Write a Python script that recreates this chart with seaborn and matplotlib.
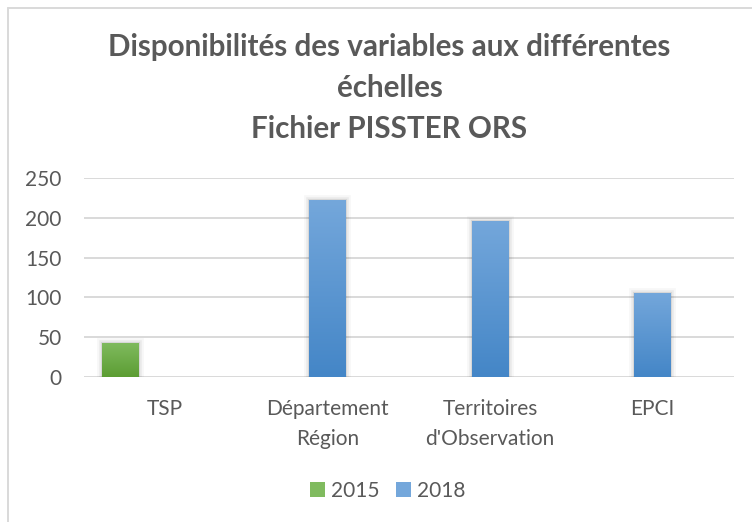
import numpy as np
import pandas as pd
import matplotlib
matplotlib.use("Agg")
import matplotlib.pyplot as plt
import matplotlib.patheffects as pe
from matplotlib.patches import Patch
from matplotlib.lines import Line2D
import seaborn as sns

# Data
categories = ["TSP", "Département\nRégion", "Territoires\nd'Observation", "EPCI"]
years = ["2015", "2018"]
values_2015 = [43, 0, 0, 0]
values_2018 = [0, 222, 196, 106]
title_lines = ["Disponibilités des variables aux différentes", "échelles", "Fichier PISSTER ORS"]

colors = {"2015": "#6aab45", "2018": "#5598d6", "_slot": "#ffffff"}
grad = {"2015": ("#80bb5f", "#5c9d33"), "2018": ("#74a7db", "#4486c7")}

rows = []
for cat, a, b in zip(categories, values_2015, values_2018):
    if a:
        rows.append({"cat": cat, "year": "2015", "val": a})
    if b:
        rows.append({"cat": cat, "year": "2018", "val": b})
df = pd.DataFrame(rows)

sns.set_theme(style="white")
plt.rcParams["font.family"] = ["Lato", "DejaVu Sans"]

fig = plt.figure(figsize=(7.52, 5.22), dpi=100)
ax = fig.add_axes([84 / 752, 1 - 377 / 522, 650 / 752, 199 / 522])

sns.barplot(data=df, x="cat", y="val", hue="year", order=categories,
            hue_order=["2015", "2018", "_slot"], palette=colors,
            dodge=True, width=0.831, gap=0.18, errorbar=None,
            legend=False, ax=ax, zorder=3)

ax.set_ylim(0, 250)
ax.set_xlim(-0.5, len(categories) - 0.5)
ax.set_yticks([0, 50, 100, 150, 200, 250])
ax.yaxis.grid(True, color="#d9d9d9", linewidth=1.4)
ax.set_axisbelow(True)
for s in ax.spines.values():
    s.set_visible(False)
ax.set_xlabel("")
ax.set_ylabel("")
ax.tick_params(axis="both", length=0, labelsize=15, colors="#595959")
ax.tick_params(axis="y", pad=16)
ax.tick_params(axis="x", pad=16)
for t in ax.get_xticklabels():
    t.set_linespacing(1.62)

# Vertical gradient and soft shadow on each bar
shadow = [pe.Stroke(linewidth=7, foreground="#000000", alpha=0.03),
          pe.Stroke(linewidth=4, foreground="#000000", alpha=0.05),
          pe.Stroke(linewidth=1.5, foreground="#000000", alpha=0.08),
          pe.Normal()]
for p in list(ax.patches):
    h = p.get_height()
    if not h or np.isnan(h):
        continue
    x0 = p.get_x()
    w = p.get_width()
    centre = x0 + w / 2
    # 2015 bars sit left of the category centre, 2018 bars on it
    key = "2015" if centre - round(centre) < -0.1 else "2018"
    p.set_facecolor(colors[key])
    top, bot = (np.array(matplotlib.colors.to_rgb(c)) for c in grad[key])
    t = np.linspace(0, 1, 100)[:, None]
    img = (top * (1 - t) + bot * t)[:, None, :]
    p.set_linewidth(0)
    p.set_path_effects(shadow)
    im = ax.imshow(img, extent=[x0, x0 + w, 0, h], origin="upper",
                   aspect="auto", zorder=4, interpolation="bilinear")
    im.set_clip_path(p)

ax.set_ylim(0, 250)
ax.set_xlim(-0.5, len(categories) - 0.5)

# Title
fig.text(0.518, 1 - 88 / 522, "\n".join(title_lines), ha="center", va="center",
         fontsize=21.3, fontweight="bold", color="#595959", linespacing=1.56)

# Legend
handles = [Patch(facecolor=grad[y][0], edgecolor="none", label=y) for y in years]
fig.legend(handles=handles, loc="center", bbox_to_anchor=(0.516, 1 - 491 / 522),
           ncol=2, frameon=False, fontsize=15, labelcolor="#595959",
           handlelength=0.7, handleheight=0.7, handletextpad=0.3,
           columnspacing=0.8)

# Chart frame
fig.add_artist(Line2D([7.5 / 752, 7.5 / 752], [0, 1 - 8 / 522],
                      transform=fig.transFigure, color="#d9d9d9", linewidth=1.4))
fig.add_artist(Line2D([7.5 / 752, 1], [1 - 8 / 522, 1 - 8 / 522],
                      transform=fig.transFigure, color="#d9d9d9", linewidth=1.4))

fig.savefig("out.png", dpi=100)
